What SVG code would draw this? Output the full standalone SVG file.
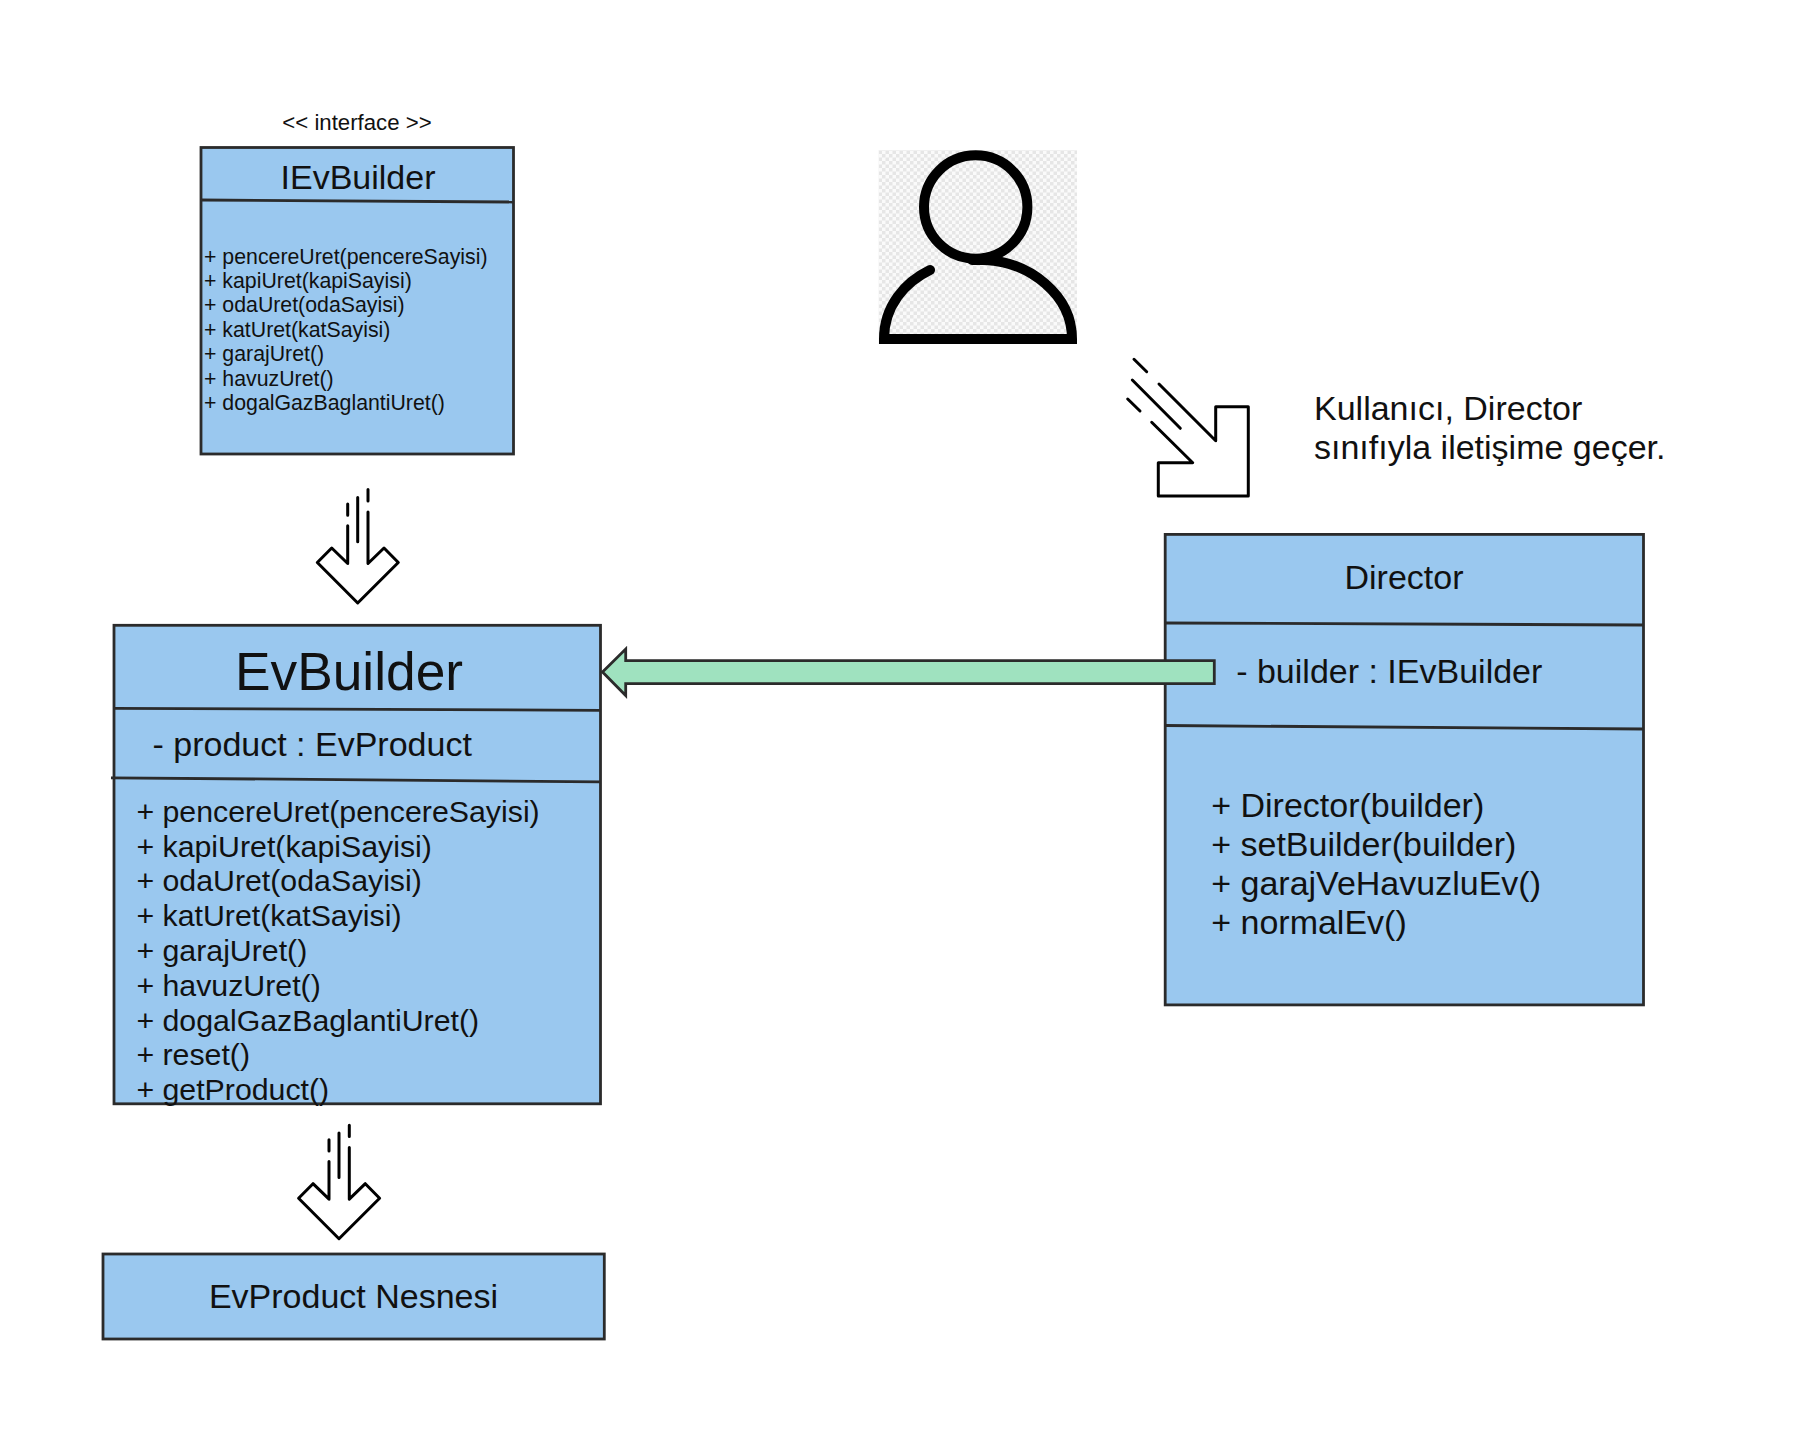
<svg xmlns="http://www.w3.org/2000/svg" width="1797" height="1440" viewBox="0 0 1797 1440">
<style>
text{font-family:"Liberation Sans",Arial,sans-serif;fill:#111}
.box{fill:#9ac8ef;stroke:#2b2b2b;stroke-width:2.8}
.div{fill:none;stroke:#2b2b2b;stroke-width:2.8}
.icon{fill:none;stroke:#000;stroke-width:3;stroke-linecap:round;stroke-linejoin:round}
.f34{font-size:34px}
.f30{font-size:30.3px}
.f21{font-size:21.3px}
</style>
<defs>
<pattern id="checker" width="7" height="7" patternUnits="userSpaceOnUse">
<rect width="7" height="7" fill="#fafafa"/>
<rect width="3.5" height="3.5" fill="#e6e6e6"/>
<rect x="3.5" y="3.5" width="3.5" height="3.5" fill="#e6e6e6"/>
</pattern>
<g id="downArrow">
<path class="icon" d="M347.7 525.7V563.5L331.7 548L317.3 562.5L357.7 603L398.3 562.5L384 548L368 563.5V511.9"/>
<path class="icon" d="M357.7 497.4V541.8M347.7 504V515.3M368 489.5V500.9"/>
</g>
</defs>
<rect width="1797" height="1440" fill="#fff"/>

<g id="IEvBuilder">
<text x="357" y="129.5" font-size="22.2" text-anchor="middle">&lt;&lt; interface &gt;&gt;</text>
<rect class="box" x="201" y="147.5" width="312.5" height="306.5"/>
<path class="div" d="M201 200L513.5 202"/>
<text class="f34" x="358" y="189" text-anchor="middle">IEvBuilder</text>
<g class="f21">
<text x="204" y="263.7">+ pencereUret(pencereSayisi)</text>
<text x="204" y="288">+ kapiUret(kapiSayisi)</text>
<text x="204" y="312.4">+ odaUret(odaSayisi)</text>
<text x="204" y="336.8">+ katUret(katSayisi)</text>
<text x="204" y="361.2">+ garajUret()</text>
<text x="204" y="385.6">+ havuzUret()</text>
<text x="204" y="410">+ dogalGazBaglantiUret()</text>
</g>
</g>

<g id="EvBuilder">
<rect class="box" x="114" y="625.3" width="486.5" height="478.5"/>
<path class="div" d="M114 708.3L600.5 710.3M111 777.8L600.5 781.8"/>
<text x="349" y="689.7" font-size="53.3" text-anchor="middle">EvBuilder</text>
<text class="f34" x="152.5" y="756">- product : EvProduct</text>
<g class="f30">
<text x="136.4" y="822">+ pencereUret(pencereSayisi)</text>
<text x="136.4" y="856.8">+ kapiUret(kapiSayisi)</text>
<text x="136.4" y="891.4">+ odaUret(odaSayisi)</text>
<text x="136.4" y="926.2">+ katUret(katSayisi)</text>
<text x="136.4" y="961">+ garajUret()</text>
<text x="136.4" y="995.8">+ havuzUret()</text>
<text x="136.4" y="1030.6">+ dogalGazBaglantiUret()</text>
<text x="136.4" y="1065">+ reset()</text>
<text x="136.4" y="1100">+ getProduct()</text>
</g>
</g>

<g id="EvProductNesnesi">
<rect class="box" x="103" y="1254" width="501.3" height="85"/>
<text class="f34" x="353.5" y="1308" text-anchor="middle">EvProduct Nesnesi</text>
</g>

<g id="Director">
<rect class="box" x="1165.2" y="534.4" width="478.3" height="470.5"/>
<path class="div" d="M1165.2 623L1643.5 625M1165.2 725.5L1643.5 729"/>
<text class="f34" x="1404" y="588.8" text-anchor="middle">Director</text>
<text class="f34" x="1236.2" y="682.7">- builder : IEvBuilder</text>
<text class="f34" x="1211.2" y="816.7">+ Director(builder)</text>
<text class="f34" x="1211.2" y="855.7">+ setBuilder(builder)</text>
<text class="f34" x="1211.2" y="894.7">+ garajVeHavuzluEv()</text>
<text class="f34" x="1211.2" y="933.7">+ normalEv()</text>
</g>

<g id="User">
<rect x="878.6" y="150" width="198.4" height="194" fill="url(#checker)"/>
<circle cx="975.7" cy="207" r="51.7" fill="none" stroke="#000" stroke-width="10"/>
<path d="M930 270C905 282 884 306 884 339H1072C1072 295 1030 262 985 260H972" fill="none" stroke="#000" stroke-width="10" stroke-linecap="round"/>
</g>

<g id="Note">
<text class="f34" x="1314" y="420">Kullanıcı, Director</text>
<text class="f34" x="1314" y="459">sınıfıyla iletişime geçer.</text>
</g>

<g id="connectors">
<polygon points="1214.3,660.7 625.7,660.7 625.7,649 602.5,672 625.7,695.5 625.7,683.7 1214.3,683.7" fill="#9fe2bf" stroke="#2b2b2b" stroke-width="2.8"/>
<use href="#downArrow"/>
<use href="#downArrow" transform="translate(-18.7 635.7)"/>
<path class="icon" d="M1151.7 422.3L1192.7 462.7H1158.3V496H1248.3V406.7H1215.7V440.7L1159 384"/>
<path class="icon" d="M1132.3 380L1180.3 428.3M1134 359.3L1146.7 371.7M1127.7 399L1140 411"/>
</g>
</svg>
